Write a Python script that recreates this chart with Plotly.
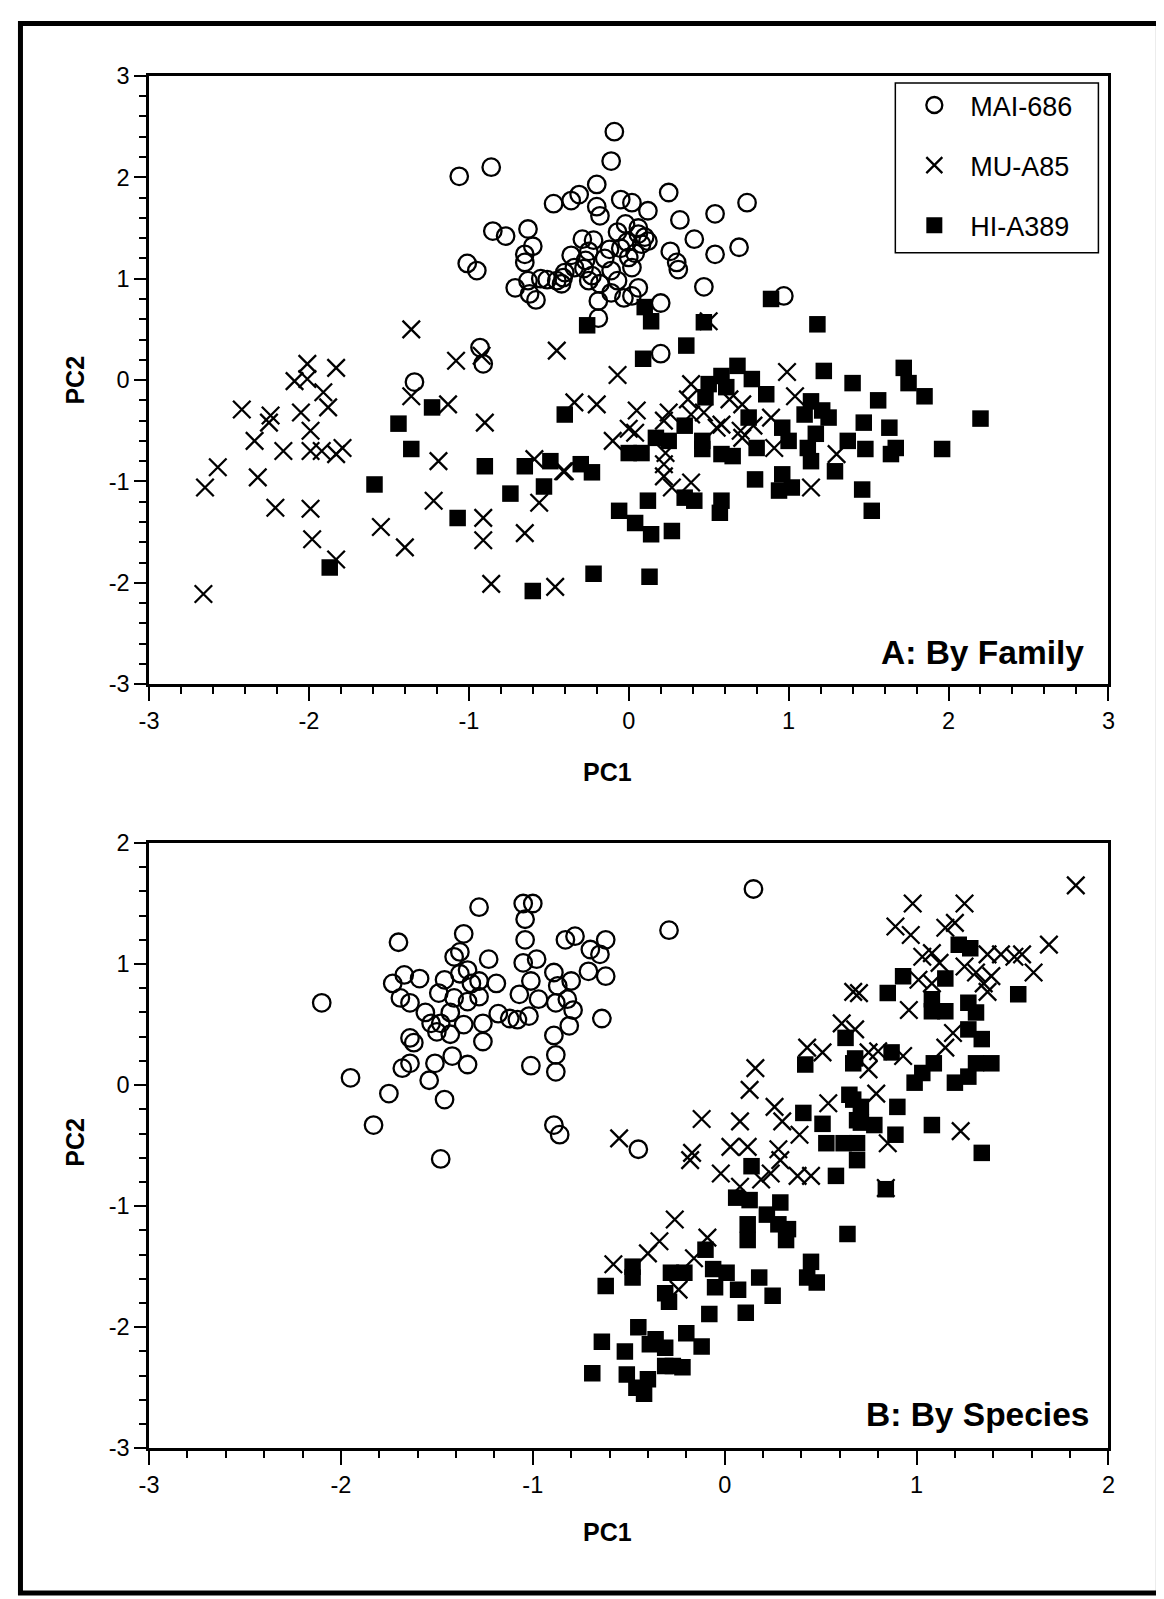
import plotly.graph_objects as go

# ---------------- Panel A: By Family ----------------
A_mai_x = [-0.09, -0.11, -1.06, -0.86, -0.20, -0.31, -0.36, -0.47, -0.20, -0.18, -0.05, 0.02, 0.12, 0.25, 0.32, 0.54, 0.74,
           -0.02, 0.06, 0.06, -0.85, -0.77, -0.63, -0.60, -0.65, -0.65, -1.01, -0.95, -0.71, -0.63, -0.62, -0.58, -0.51,
           -0.45, -0.42, -0.41, -0.36, -0.29, -0.22, -0.27, -0.23, -0.18, -0.12, -0.11, -0.07, -0.01, 0.02, 0.08, 0.10,
           0.06, -0.03, -0.19, -0.19, 0.20, 0.26, 0.30, 0.31, 0.41, 0.54, 0.69, 0.47, 0.20, -0.93, -0.91, -1.34, 0.97,
           -0.34, -0.25, 0.00, -0.07, 0.12, -0.11, 0.02, -0.25, -0.55, -0.40, -0.05, 0.04, -0.15, -0.28]
A_mai_y = [2.45, 2.16, 2.01, 2.10, 1.93, 1.83, 1.77, 1.74, 1.71, 1.62, 1.78, 1.75, 1.67, 1.85, 1.58, 1.64, 1.75,
           1.54, 1.50, 1.44, 1.47, 1.42, 1.49, 1.32, 1.24, 1.16, 1.15, 1.08, 0.91, 0.98, 0.85, 0.79, 0.99,
           0.98, 0.95, 1.01, 1.23, 1.39, 1.38, 1.18, 1.03, 0.95, 1.29, 1.08, 0.98, 1.36, 1.11, 1.34, 1.41,
           0.91, 0.81, 0.78, 0.61, 0.76, 1.27, 1.16, 1.09, 1.39, 1.24, 1.31, 0.92, 0.26, 0.32, 0.16, -0.02, 0.83,
           1.11, 1.27, 1.21, 1.46, 1.37, 0.86, 0.83, 0.98, 1.00, 1.06, 1.30, 1.25, 1.20, 1.10]

A_mu_x = [-1.36, -2.01, -1.83, -2.09, -2.01, -1.91, -1.88, -2.42, -2.24, -2.25, -2.05, -2.34, -2.16, -1.99, -1.99,
          -1.92, -1.83, -1.79, -2.57, -2.65, -2.32, -2.21, -1.99, -1.98, -1.83, -2.66, -1.36, -1.13, -1.08, -0.90,
          -0.45, -1.19, -1.22, -1.55, -1.40, -0.91, -0.91, -0.65, -0.56, -0.86, -0.46, -0.59, -0.41, -0.92,
          0.50, -0.07, 0.99, 1.04, -0.34, -0.20, 0.05, 0.25, 0.39, 0.37, 0.39, 0.63, 0.71, 0.58, 0.70, 0.89,
          -0.10, 0.00, 0.04, 0.22, 0.23, 0.22, 0.22, 0.27, 0.39, 0.55, 0.71, 0.91, -0.40, 1.30, 1.14, 0.47, 0.78]
A_mu_y = [0.50, 0.16, 0.12, -0.01, 0.01, -0.12, -0.27, -0.29, -0.35, -0.42, -0.32, -0.60, -0.70, -0.50, -0.70,
          -0.70, -0.73, -0.67, -0.86, -1.06, -0.96, -1.26, -1.27, -1.57, -1.77, -2.11, -0.16, -0.24, 0.19, -0.42,
          0.29, -0.80, -1.19, -1.45, -1.65, -1.36, -1.58, -1.51, -1.21, -2.01, -2.04, -0.78, -0.90, 0.24,
          0.58, 0.05, 0.08, -0.16, -0.22, -0.24, -0.30, -0.32, -0.04, -0.19, -0.34, -0.19, -0.24, -0.44, -0.50, -0.37,
          -0.60, -0.48, -0.52, -0.40, -0.72, -0.83, -0.95, -1.06, -1.01, -0.47, -0.57, -0.67, -0.90, -0.73, -1.06, -0.32, -0.45]

A_hi_x = [-1.23, -1.44, -1.36, -1.59, -0.90, -0.65, -0.49, -0.74, -0.53, -1.07, -1.87, -0.60, -0.40,
          -0.26, 0.14, 0.47, 1.18, 0.36, 0.09, 0.68, 1.22, 1.72, 1.75, 1.85, 1.40, 1.56, 0.77, 0.86, 0.50, 0.58,
          0.48, 0.61, 2.20, 0.35, 0.17, 0.00, 0.08, 0.25, 0.46, 0.58, 0.65, 0.75, 0.80, 0.96, 1.00, 1.14, 1.21,
          1.25, 1.10, 1.17, 1.12, 1.37, 1.47, 1.63, 1.48, 1.64, 1.67, 1.96, 1.29, 1.14, 1.46, 1.52, 0.96, 0.94,
          1.02, 0.79, 0.58, 0.57, 0.41, 0.35, 0.12, -0.06, 0.04, 0.14, 0.27, -0.22, 0.13, -0.23, -0.30, 0.46,
          0.10, 0.89]
A_hi_y = [-0.27, -0.43, -0.68, -1.03, -0.85, -0.85, -0.80, -1.12, -1.05, -1.36, -1.85, -2.08, -0.34,
          0.54, 0.58, 0.57, 0.55, 0.34, 0.21, 0.14, 0.09, 0.12, -0.03, -0.16, -0.03, -0.20, 0.01, -0.14, -0.04, 0.04,
          -0.17, -0.07, -0.38, -0.45, -0.57, -0.72, -0.72, -0.60, -0.68, -0.73, -0.75, -0.37, -0.67, -0.47, -0.60, -0.21, -0.30,
          -0.37, -0.34, -0.53, -0.67, -0.60, -0.42, -0.47, -0.68, -0.73, -0.67, -0.68, -0.90, -0.80, -1.08, -1.29, -0.93, -1.09,
          -1.06, -0.98, -1.19, -1.31, -1.19, -1.16, -1.19, -1.29, -1.41, -1.52, -1.49, -1.91, -1.94, -0.91, -0.83, -0.60,
          0.72, 0.80]

# ---------------- Panel B: By Species ----------------
B_mai_x = [-2.10, -1.95, -1.83, -1.75, -1.70, -1.73, -1.67, -1.59, -1.69, -1.64, -1.56, -1.53, -1.50, -1.64, -1.62,
           -1.68, -1.64, -1.54, -1.51, -1.46, -1.48, -1.42, -1.34, -1.43, -1.43, -1.49, -1.46, -1.41, -1.38, -1.36,
           -1.28, -1.38, -1.34, -1.32, -1.41, -1.34, -1.28, -1.28, -1.23, -1.19, -1.36, -1.26, -1.26, -1.18, -1.12,
           -1.08, -1.02, -1.05, -1.00, -1.04, -1.04, -1.05, -0.98, -1.01, -1.07, -0.97, -1.01, -0.89, -0.87, -0.83,
           -0.78, -0.80, -0.88, -0.82, -0.79, -0.81, -0.89, -0.88, -0.88, -0.89, -0.86, -0.70, -0.65, -0.62, -0.71,
           -0.62, -0.64, -0.45, 0.15, -0.29, -1.48]
B_mai_y = [0.68, 0.06, -0.33, -0.07, 1.18, 0.84, 0.91, 0.88, 0.72, 0.68, 0.60, 0.51, 0.44, 0.39, 0.35,
           0.14, 0.18, 0.04, 0.18, -0.12, -0.61, 0.24, 0.17, 0.60, 0.42, 0.76, 0.87, 1.06, 1.10, 1.25,
           1.47, 0.92, 0.95, 0.84, 0.72, 0.69, 0.73, 0.86, 1.04, 0.84, 0.50, 0.51, 0.36, 0.59, 0.55,
           0.54, 0.57, 1.50, 1.50, 1.37, 1.20, 1.01, 1.04, 0.86, 0.75, 0.71, 0.16, 0.93, 0.82, 1.20,
           1.23, 0.86, 0.68, 0.71, 0.62, 0.49, 0.41, 0.25, 0.11, -0.33, -0.41, 1.12, 1.08, 1.20, 0.94,
           0.90, 0.55, -0.53, 1.62, 1.28, 0.51]

B_mu_x = [-0.55, 0.16, 0.13, -0.12, 0.08, 0.26, 0.30, 0.54, 0.39, -0.17, -0.18, 0.03, 0.12, 0.28, 0.29, -0.02,
          0.24, 0.19, 0.38, 0.45, 0.08, -0.26, -0.34, -0.40, -0.58, -0.09, -0.16, -0.24,
          1.83, 0.98, 1.25, 0.89, 0.97, 1.15, 1.20, 1.69, 1.03, 1.08, 1.12, 1.37, 1.44, 1.51, 1.55, 1.61, 1.25,
          1.31, 1.35, 1.39, 1.37, 1.01, 1.08, 0.67, 0.70, 0.96, 0.61, 0.68, 1.19, 1.15, 0.43, 0.51, 0.75, 0.80,
          0.93, 0.75, 0.79, 0.85, 1.23, 0.84]
B_mu_y = [-0.44, 0.14, -0.04, -0.28, -0.30, -0.18, -0.30, -0.15, -0.41, -0.56, -0.62, -0.51, -0.51, -0.53, -0.62, -0.73,
          -0.73, -0.78, -0.75, -0.75, -0.84, -1.11, -1.29, -1.39, -1.48, -1.26, -1.43, -1.69,
          1.65, 1.50, 1.50, 1.31, 1.24, 1.30, 1.34, 1.16, 1.06, 1.09, 1.01, 1.08, 1.08, 1.06, 1.08, 0.93, 0.98,
          0.93, 0.84, 0.90, 0.77, 0.87, 0.84, 0.77, 0.76, 0.62, 0.51, 0.46, 0.43, 0.31, 0.31, 0.27, 0.27, 0.28,
          0.24, 0.13, -0.07, -0.48, -0.38, -0.85]

B_hi_x = [0.42, 0.67, 0.41, 0.51, 0.53, 0.62, 0.67, 0.69, 0.69, 0.58, 0.14, 0.06, 0.13, 0.29, 0.22, 0.28, 0.33,
          0.32, 0.12, 0.12, 0.64, 0.45, 0.48, 0.43, 0.18, 0.25, -0.10, -0.06, 0.01, -0.05, 0.07, -0.08, 0.11,
          -0.48, -0.48, -0.62, -0.28, -0.21, -0.31, -0.29, -0.45, -0.64, -0.52, -0.39, -0.31, -0.20, -0.12,
          -0.69, -0.51, -0.40, -0.31, -0.22, -0.46, -0.42, -0.27, -0.36,
          1.22, 1.28, 0.93, 0.85, 1.15, 1.08, 1.08, 1.15, 1.27, 1.31, 1.27, 1.34, 1.53, 0.63, 0.68, 0.87, 1.03,
          0.99, 1.09, 1.20, 1.27, 1.31, 1.39, 0.65, 0.71, 0.71, 0.78, 0.90, 0.89, 1.08, 1.34, 0.69, 0.84]
B_hi_y = [0.17, 0.18, -0.23, -0.32, -0.48, -0.48, -0.12, -0.29, -0.62, -0.75, -0.67, -0.93, -0.95, -0.97, -1.07, -1.15, -1.19,
          -1.28, -1.15, -1.28, -1.23, -1.46, -1.63, -1.59, -1.59, -1.74, -1.36, -1.52, -1.55, -1.67, -1.69, -1.89, -1.88,
          -1.50, -1.59, -1.66, -1.55, -1.55, -1.72, -1.79, -2.00, -2.12, -2.20, -2.14, -2.17, -2.05, -2.16,
          -2.38, -2.39, -2.43, -2.32, -2.33, -2.50, -2.55, -2.32, -2.10,
          1.16, 1.13, 0.90, 0.76, 0.88, 0.71, 0.61, 0.61, 0.68, 0.60, 0.46, 0.38, 0.75, 0.39, 0.22, 0.27, 0.10,
          0.02, 0.18, 0.02, 0.07, 0.18, 0.18, -0.08, -0.18, -0.31, -0.33, -0.18, -0.41, -0.33, -0.56, -0.48, -0.86]

A_ticks = [-3, -2, -1, 0, 1, 2, 3]
B_ticks = [-3, -2, -1, 0, 1, 2]

# ---------------- figure ----------------
# The viewer shows the page offset by ~20 px and scaled by ~0.985; positions below
# are given in target window pixels and converted to figure pixels.
OFF = 20.0
SC = 0.985
W, H = 1162, 1604
FONT = "Liberation Sans, Arial, Helvetica, sans-serif"


def fpx(p):
    return (p - OFF) / SC


def px_x(p):
    return fpx(p) / W


def px_y(p):
    return 1 - fpx(p) / H


mai_style = dict(symbol="circle-open", size=17.5, color="black", line=dict(width=2.3, color="black"))
mu_style = dict(symbol="x-thin-open", size=17.5, color="black", line=dict(width=2.3, color="black"))
hi_style = dict(symbol="square", size=16.5, color="black", line=dict(width=0))

fig = go.Figure()
fig.add_trace(go.Scatter(x=A_mai_x, y=A_mai_y, mode="markers", name="MAI-686", marker=mai_style,
                         xaxis="x", yaxis="y", legendgroup="g1"))
fig.add_trace(go.Scatter(x=A_mu_x, y=A_mu_y, mode="markers", name="MU-A85", marker=mu_style,
                         xaxis="x", yaxis="y", legendgroup="g2"))
fig.add_trace(go.Scatter(x=A_hi_x, y=A_hi_y, mode="markers", name="HI-A389", marker=hi_style,
                         xaxis="x", yaxis="y", legendgroup="g3"))
fig.add_trace(go.Scatter(x=B_mai_x, y=B_mai_y, mode="markers", name="MAI-686", marker=mai_style,
                         xaxis="x2", yaxis="y2", showlegend=False, legendgroup="g1"))
fig.add_trace(go.Scatter(x=B_mu_x, y=B_mu_y, mode="markers", name="MU-A85", marker=mu_style,
                         xaxis="x2", yaxis="y2", showlegend=False, legendgroup="g2"))
fig.add_trace(go.Scatter(x=B_hi_x, y=B_hi_y, mode="markers", name="HI-A389", marker=hi_style,
                         xaxis="x2", yaxis="y2", showlegend=False, legendgroup="g3"))


def axis_common(rng, ticklen, ticks):
    return dict(range=rng, tickmode="array", tickvals=ticks, ticktext=[str(t) for t in ticks],
                ticks="outside", ticklen=ticklen, tickwidth=2,
                tickcolor="black", showline=True, linecolor="black", linewidth=2.5, mirror=True,
                showgrid=False, zeroline=False, tickfont=dict(family=FONT, size=23.5, color="black"),
                minor=dict(tickmode="linear", tick0=0, dtick=0.2, ticks="outside", ticklen=7, tickwidth=2,
                           tickcolor="black", showgrid=False),
                fixedrange=True)


xdom = [px_x(151), px_x(1110)]
fig.update_layout(
    width=W, height=H,
    margin=dict(l=0, r=0, t=0, b=0),
    paper_bgcolor="white", plot_bgcolor="white",
    font=dict(family=FONT, color="black"),
    xaxis=dict(domain=xdom, anchor="y", **axis_common([-3, 3], 14, A_ticks)),
    yaxis=dict(domain=[px_y(684), px_y(75)], anchor="x", **axis_common([-3, 3], 12, A_ticks)),
    xaxis2=dict(domain=xdom, anchor="y2", **axis_common([-3, 2], 14, B_ticks)),
    yaxis2=dict(domain=[px_y(1449), px_y(843)], anchor="x2", **axis_common([-3, 2], 12, B_ticks)),
    showlegend=True,
    legend=dict(x=px_x(900), y=px_y(80), xanchor="left", yanchor="top",
                font=dict(family=FONT, size=27, color="black"),
                bgcolor="rgba(0,0,0,0)", borderwidth=0, tracegroupgap=22,
                itemsizing="trace", itemwidth=62),
)

shapes = [
    dict(type="rect", xref="paper", yref="paper", x0=px_x(897), x1=px_x(1100), y0=px_y(252), y1=px_y(82),
         line=dict(color="black", width=1.5)),
    dict(type="rect", xref="paper", yref="paper", x0=2.5 / W, x1=px_x(1160), y0=px_y(1594),
         y1=1 - 2.5 / H, line=dict(color="black", width=5)),
]
fig.update_layout(shapes=shapes)

annots = [
    dict(text="<b>A: By Family</b>", x=px_x(1088), y=px_y(652), xanchor="right", yanchor="middle", size=33.5),
    dict(text="<b>B: By Species</b>", x=px_x(1093), y=px_y(1415), xanchor="right", yanchor="middle", size=33.5),
    dict(text="<b>PC1</b>", x=px_x(609), y=px_y(772), xanchor="center", yanchor="middle", size=25),
    dict(text="<b>PC1</b>", x=px_x(609), y=px_y(1533), xanchor="center", yanchor="middle", size=25),
    dict(text="<b>PC2</b>", x=px_x(77), y=px_y(380), xanchor="center", yanchor="middle", size=25, textangle=-90),
    dict(text="<b>PC2</b>", x=px_x(77), y=px_y(1143), xanchor="center", yanchor="middle", size=25, textangle=-90),
]
for a in annots:
    size = a.pop("size")
    fig.add_annotation(xref="paper", yref="paper", showarrow=False,
                       font=dict(family=FONT, size=size, color="black"), **a)

fig.write_html("out.html")
